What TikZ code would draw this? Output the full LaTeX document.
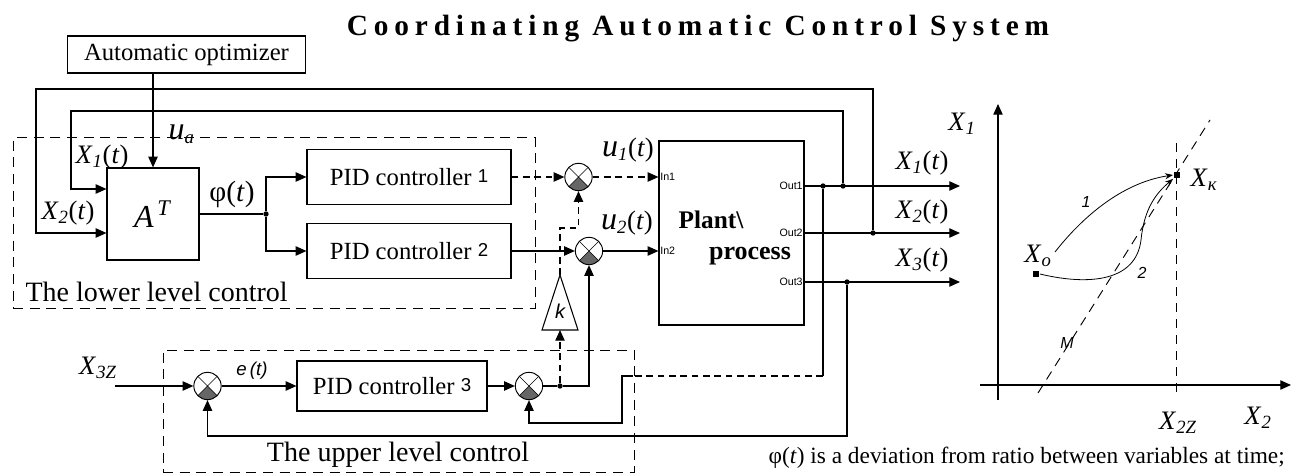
\documentclass[tikz,border=0pt]{standalone}
\usepackage{fontspec}
\setmainfont{Liberation Serif}
\newfontfamily\arialfnt{Liberation Sans}
\newfontfamily\titlefnt[LetterSpace=20]{Liberation Serif}
\usetikzlibrary{arrows.meta,positioning,calc,shapes.geometric}
\newcommand\sig[2]{\textit{#1}\textsubscript{\textit{#2}}}
\newcommand\bigu[1]{{\fontsize{24}{24}\selectfont\textit{u}}\textsubscript{\textit{#1}}}
\newcommand\pidno[1]{\raisebox{2.5pt}{\arialfnt\fontsize{14}{15}\selectfont #1}}
\tikzset{
  blk/.style={draw, line width=0.9pt, inner sep=0pt},
  pidbox/.style={blk, minimum width=153pt, minimum height=41pt, font=\fontsize{18.5}{20}\selectfont},
  sumj/.style={circle, draw, line width=0.7pt, minimum size=20.5pt, inner sep=0pt,
    path picture={
      \fill[black!60] (path picture bounding box.center) -- (path picture bounding box.south west)
        -- (path picture bounding box.south east) -- cycle;
      \draw[line width=0.5pt] (path picture bounding box.north west) -- (path picture bounding box.south east)
        (path picture bounding box.north east) -- (path picture bounding box.south west);
    }},
  dotj/.style={circle, fill, inner sep=0pt, minimum size=4pt},
  dbox/.style={draw, line width=0.75pt, dash pattern=on 7.5pt off 5pt, inner sep=0pt},
  dline/.style={dash pattern=on 5pt off 3.5pt},
  lbl/.style={font=\fontsize{20}{22}\selectfont},
  big/.style={font=\fontsize{21}{23}\selectfont},
  port/.style={font=\arialfnt\fontsize{8}{9}\selectfont, inner sep=1pt},
  skl/.style={font=\arialfnt\itshape\fontsize{12}{13}\selectfont},
  gline/.style={line width=0.8pt},
  gdash/.style={line width=0.7pt, dash pattern=on 7pt off 5pt},
  garr/.style={line width=0.6pt, -{Stealth[length=6pt,width=4.5pt]}},
  sq/.style={fill, inner sep=0pt, minimum size=5pt},
}
\begin{document}
\begin{tikzpicture}[x=0.75pt, y=-0.75pt, line width=0.9pt, >={Triangle[length=8pt,width=7pt]}]
  \useasboundingbox (0,0) rectangle (1293,474);
  \node[font=\titlefnt\bfseries\fontsize{22}{24}\selectfont, anchor=base] (title) at (698,36) {Coordinating Automatic Control System};

  \node[dbox, minimum width=391.5pt, minimum height=127.5pt] (lowctl) at (274,223) {};
  \node[dbox, minimum width=353.25pt, minimum height=91.5pt] (upctl) at (398.5,411) {};
  \node[big, anchor=base west, inner sep=0pt] (lowlbl) at (25,301) {The lower level control};
  \node[big, anchor=base, inner sep=0pt] (uplbl) at (398,461) {The upper level control};

  \node[blk, minimum width=179pt, minimum height=27.75pt, font=\fontsize{18.5}{20}\selectfont] (opt) at (186.5,54.5) {Automatic optimizer};
  \node[blk, minimum width=69pt, minimum height=69pt] (AT) at (153,214) {\fontsize{24}{26}\selectfont\textit{A}\textsuperscript{\,\textit{T}}};
  \node[pidbox] (pid1) at (409,177) {PID controller \pidno{1}};
  \node[pidbox] (pid2) at (409,251) {PID controller \pidno{2}};
  \node[pidbox, minimum width=142.5pt, minimum height=37.5pt] (pid3) at (392,386) {PID controller \pidno{3}};
  \node[sumj] (sum1) at (578.5,177) {};
  \node[sumj] (sum2) at (589,251) {};
  \node[sumj] (sum3) at (207.5,386) {};
  \node[sumj] (sum4) at (529,386) {};
  \node[font=\arialfnt\itshape\fontsize{15}{16}\selectfont, inner sep=0pt] (k) at (560,311) {k};
  \coordinate (kapex) at (560,275);
  \coordinate (kbase) at (560,330);
  \draw[line width=0.8pt] (kapex) -- (542,330) -- (578,330) -- cycle;
  \node[blk, minimum width=108.75pt, minimum height=138pt] (plant) at (731.5,233) {};
  \node[font=\bfseries\fontsize{19}{21}\selectfont] (plt1) at (711,220) {Plant\textbackslash};
  \node[font=\bfseries\fontsize{19.5}{21}\selectfont] (plt2) at (750,256) {process};

  \coordinate (in1) at (plant.west |- sum1);
  \coordinate (in2) at (plant.west |- sum2);
  \coordinate (o1) at (plant.east |- 0,186);
  \coordinate (o2) at (plant.east |- 0,233);
  \coordinate (o3) at (plant.east |- 0,282);
  \node[port, anchor=west] (pin1) at (in1) {In1};
  \node[port, anchor=west] (pin2) at (in2) {In2};
  \node[port, anchor=east] (pout1) at (o1) {Out1};
  \node[port, anchor=east] (pout2) at (o2) {Out2};
  \node[port, anchor=east] (pout3) at (o3) {Out3};

  \node[dotj] (jphi) at (266,214) {};
  \node[dotj] (j1a) at (823,186) {};
  \node[dotj] (j1b) at (843,186) {};
  \node[dotj] (j2) at (873,233) {};
  \node[dotj] (j3) at (847,282) {};
  \node[dotj] (jk) at (560,386) {};
  \coordinate (e1) at (960,186);
  \coordinate (e2) at (960,233);
  \coordinate (e3) at (960,282);
  \coordinate (ax1) at (AT.west |- 0,189);
  \coordinate (ax2) at (AT.west |- 0,233);
  \coordinate (c1) at (71,111);
  \coordinate (c2) at (36,89);
  \coordinate (f1) at (823,376);
  \coordinate (f2) at (633,376);
  \coordinate (f3) at (622,423);
  \coordinate (f4) at (847,436);
  \coordinate (kc) at (560,228);
  \coordinate (x3z) at (115,386);

  \draw[->] (AT.north |- opt.south) -- (AT.north);
  \draw (AT.east) -- (jphi);
  \draw[->] (jphi) |- (pid1.west);
  \draw[->] (jphi) |- (pid2.west);
  \draw[->, dline] (pid1) -- (sum1);
  \draw[->, dline] (sum1) -- (in1);
  \draw[->] (pid2) -- (sum2);
  \draw[->] (sum2) -- (in2);
  \draw[->] (o1) -- (e1);
  \draw[->] (o2) -- (e2);
  \draw[->] (o3) -- (e3);
  \draw[->] (j1b) |- (c1) |- (ax1);
  \draw[->] (j2) |- (c2) |- (ax2);
  \draw (j1a) -- (f1);
  \draw[dline] (f1) -- (f2);
  \draw[->] (f2) -| (f3) -| (sum4.south);
  \draw[->] (j3) -- (f4) -| (sum3.south);
  \draw[->] (x3z) -- (sum3);
  \draw[->] (sum3) -- (pid3);
  \draw[->] (pid3) -- (sum4);
  \draw (sum4) -- (jk);
  \draw[->] (jk) -| (sum2.south);
  \draw[->, dline] (jk) -- (kbase);
  \draw[->, dline] (kapex) -- (kc) -| (sum1.south);

  \node[lbl, anchor=west, inner sep=0pt] (ua) at (168,134) {\bigu{a}};
  \node[lbl] (lx1) at (102,157) {\sig{X}{1}(\textit{t})};
  \node[lbl] (lx2) at (68,213) {\sig{X}{2}(\textit{t})};
  \node[font=\fontsize{22}{24}\selectfont] (lphi) at (232,194) {φ(\textit{t})};
  \node[lbl] (lu1) at (628,150) {\bigu{1}(\textit{t})};
  \node[lbl] (lu2) at (627,223) {\bigu{2}(\textit{t})};
  \node[lbl] (ly1) at (922,163) {\sig{X}{1}(\textit{t})};
  \node[lbl] (ly2) at (922,212) {\sig{X}{2}(\textit{t})};
  \node[lbl] (ly3) at (922,260) {\sig{X}{3}(\textit{t})};
  \node[lbl] (lx3z) at (98,368) {\sig{X}{3Z}};
  \node[font=\arialfnt\itshape\fontsize{14}{15}\selectfont] (le) at (252,371) {e\,(t)};

  \coordinate (ya) at (998,400);
  \coordinate (yb) at (998,104);
  \coordinate (xa) at (980,385);
  \coordinate (xb) at (1291,385);
  \coordinate (vz1) at (1176,143);
  \coordinate (vz2) at (1176,393);
  \coordinate (m1) at (1038,393);
  \coordinate (m2) at (1210,120);
  \coordinate (c1s) at (1055,252);
  \draw[gline, ->] (ya) -- (yb);
  \draw[gline, ->] (xa) -- (xb);
  \draw[gdash] (vz1) -- (vz2);
  \draw[gdash] (m1) -- (m2);
  \node[sq] (xo) at (1036,274) {};
  \node[sq] (xk) at (1177,175) {};
  \draw[garr] (c1s) .. controls (1080,220) and (1120,183) .. (xk.west);
  \draw[garr] (xo.east) .. controls (1090,286) and (1136,281) .. (1141,240)
    .. controls (1144,210) and (1155,194) .. (xk.south west);
  \node[lbl] (gx1) at (962,124) {\sig{X}{1}};
  \node[lbl] (gx2) at (1258,418) {\sig{X}{2}};
  \node[lbl] (gx2z) at (1178,423) {\sig{X}{2Z}};
  \node[lbl] (gxo) at (1038,256) {\sig{X}{о}};
  \node[lbl] (gxk) at (1204,180) {\sig{X}{к}};
  \node[skl] (gm) at (1067,343) {M};
  \node[skl] (g1) at (1086,202) {1};
  \node[skl] (g2) at (1142,273) {2};

  \node[font=\fontsize{17.5}{19}\selectfont, anchor=base west, inner sep=0pt] (note) at (768,463) {φ(\textit{t}) is a deviation from ratio between variables at time;};
\end{tikzpicture}
\end{document}
